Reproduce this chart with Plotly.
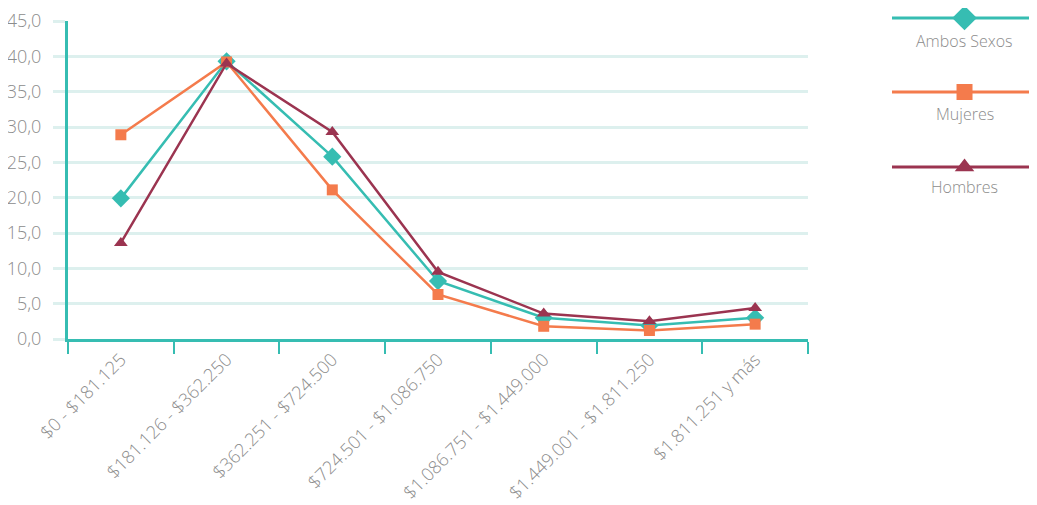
import plotly.graph_objects as go

categories = ["$0 - $181.125", "$181.126 - $362.250", "$362.251 - $724.500",
              "$724.501 - $1.086.750", "$1.086.751 - $1.449.000",
              "$1.449.001 - $1.811.250", "$1.811.251 y más"]
ambos = [19.9, 39.3, 25.8, 8.2, 3.0, 1.9, 3.0]
mujeres = [28.9, 39.2, 21.1, 6.3, 1.8, 1.2, 2.1]
hombres = [13.6, 39.0, 29.3, 9.5, 3.6, 2.5, 4.4]
series_names = ["Ambos Sexos", "Mujeres", "Hombres"]
yticks = [0, 5, 10, 15, 20, 25, 30, 35, 40, 45]

TEAL = "#36BDB2"
ORANGE = "#F47B4C"
MAROON = "#9B3450"
GRID = "#DDF0EE"
TXT = "#8C8C8C"
FONT = "Open Sans"

styles = [
    (ambos, TEAL, "diamond", 14),
    (mujeres, ORANGE, "square", 11),
    (hombres, MAROON, "triangle-up", 12),
]

# page body has an 8px margin: figure coords = screen coords - 8
W, H = 1037, 505
L, T, B = 60, 5, 174
PW = W - L
PH = H - T - B
SCREEN_TOP = T + 8          # screen y of plot-area top
SCREEN_BOT = H - B + 8      # screen y of plot-area bottom (339)

fig = go.Figure()
for name, (vals, col, sym, sz) in zip(series_names, styles):
    fig.add_trace(go.Scatter(
        x=categories, y=vals, name=name, mode="lines+markers",
        line=dict(color=col, width=2.5),
        marker=dict(symbol=sym, size=sz, color=col),
        showlegend=False, cliponaxis=False,
    ))

# custom legend on the right (screen px): line with marker, label underneath
leg_line_y = [18, 92, 167]
leg_text_y = [41, 114, 187]
x_leg0 = (892 - 8 - L) / PW
for i, (name, (vals, col, sym, sz)) in enumerate(zip(series_names, styles)):
    py = (SCREEN_BOT - leg_line_y[i]) / PH
    fig.add_shape(type="line", xref="paper", yref="paper",
                  x0=x_leg0, x1=1.0, y0=py, y1=py,
                  line=dict(color=col, width=3), layer="below")
    fig.add_trace(go.Scatter(
        x=[0.5], y=[leg_line_y[i]], mode="markers",
        marker=dict(symbol=sym, size=sz + 5, color=col), xaxis="x2", yaxis="y2",
        showlegend=False, hoverinfo="skip", cliponaxis=False,
    ))
    fig.add_annotation(x=0.5, y=leg_text_y[i], xref="x2", yref="y2",
                       text=name, showarrow=False,
                       font=dict(family=FONT, size=16, color=TXT, weight=300))

fig.update_layout(
    width=W, height=H,
    margin=dict(l=L, r=0, t=T, b=B, autoexpand=False),
    paper_bgcolor="white", plot_bgcolor="white",
    separators=",.",
    font=dict(family=FONT, color=TXT, weight=300),
    xaxis=dict(
        domain=[0, 740 / PW],
        type="category", range=[-0.5, 6.5], tickson="boundaries",
        ticks="outside", ticklen=12, tickwidth=2, tickcolor=TEAL,
        showline=True, linecolor=TEAL, linewidth=3,
        showgrid=False, tickangle=-45, automargin=False,
        tickfont=dict(family=FONT, size=18, color=TXT, weight=300),
    ),
    yaxis=dict(
        domain=[0, (SCREEN_BOT - 21) / PH],
        range=[0, 45], tickvals=yticks, tickformat=".1f",
        showgrid=True, gridcolor=GRID, gridwidth=3,
        showline=True, linecolor=TEAL, linewidth=3,
        zeroline=False, ticks="outside", ticklen=12, tickwidth=3, tickcolor=GRID,
        ticklabelstandoff=8, automargin=False,
        tickfont=dict(family=FONT, size=18, color=TXT, weight=300),
    ),
    xaxis2=dict(domain=[x_leg0, 1.0], range=[0, 1.055], visible=False, anchor="y2"),
    yaxis2=dict(domain=[0, 1], range=[SCREEN_BOT, SCREEN_TOP], visible=False, anchor="x2"),
)

fig.write_html("out.html")
